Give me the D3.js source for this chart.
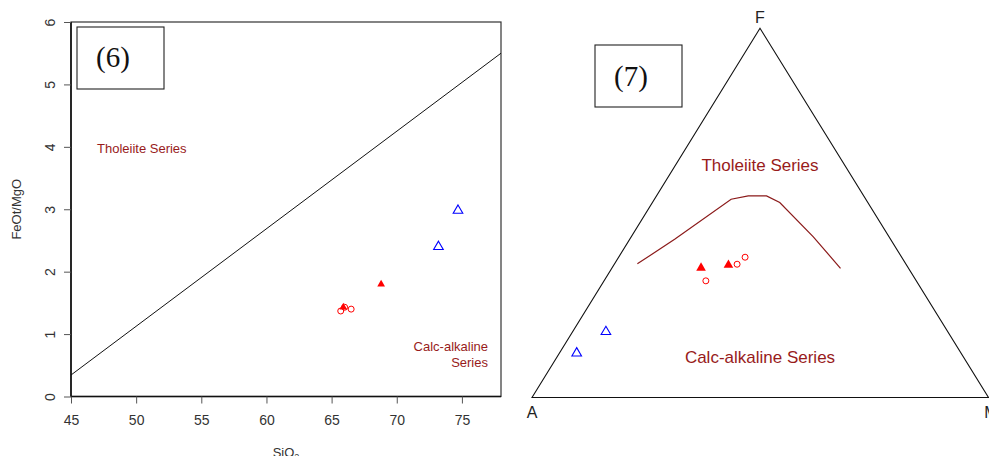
<!DOCTYPE html>
<html>
<head>
<meta charset="utf-8">
<script src="https://cdn.jsdelivr.net/npm/d3@7"></script>
<style>
  body { margin: 0; background: #fff; }
  svg { display: block; font-family: "Liberation Sans", Arial, sans-serif; }
</style>
</head>
<body>
<svg id="chart" width="989" height="456"></svg>
<script>
// ---- data ----
// left panel: SiO2 vs FeOt/MgO
const siO2   = [74.7, 73.2, 68.8, 65.9, 65.7, 66.0, 66.5];
const feoMgo = [2.98, 2.40, 1.80, 1.43, 1.37, 1.43, 1.40];
const kinds  = ['open', 'open', 'filled', 'filled', 'circle', 'circle', 'circle'];
const xTicks = [45, 50, 55, 60, 65, 70, 75];
const yTicks = [0, 1, 2, 3, 4, 5, 6];
// Miyashiro divide line (endpoints)
const divideSi = [45, 78];
const divideFm = [0.344, 5.5];

// right panel: AFM ternary (percent)
const afmA = [74.9, 84.2, 45.4, 39.0, 46.1, 37.0, 34.3];
const afmF = [17.8, 12.0, 35.1, 35.9, 31.6, 36.1, 38.0];
const afmM = [7.3, 3.8, 19.5, 25.1, 22.3, 26.9, 27.7];
const afmKinds = ['open', 'open', 'filled', 'filled', 'circle', 'circle', 'circle'];
// tholeiite / calc-alkaline boundary
const boundA = [58.8, 47.2, 29.5, 25.3, 21.3, 19.3, 16.6, 14.9];
const boundF = [36.2, 42.9, 53.7, 54.6, 54.6, 52.8, 43.5, 35.0];
const boundM = [5.0, 9.9, 16.8, 20.1, 24.1, 27.9, 39.9, 50.1];

const labelRed = '#981b1b';
const svg = d3.select('#chart');

function drawMark(g, kind, x, y, triSize) {
  if (kind === 'circle') {
    g.append('circle').attr('cx', x).attr('cy', y).attr('r', 3)
      .attr('fill', 'none').attr('stroke', '#ff0000').attr('stroke-width', 1);
  } else {
    const path = d3.symbol(d3.symbolTriangle, kind === 'open' ? 40 : triSize)();
    const p = g.append('path').attr('d', path).attr('transform', `translate(${x},${y})`);
    if (kind === 'open') p.attr('fill', 'none').attr('stroke', '#0000ff').attr('stroke-width', 1.1);
    else p.attr('fill', '#ff0000');
  }
}

// ---- left panel ----
const x = d3.scaleLinear().domain([45, 78]).range([71, 501]);
const y = d3.scaleLinear().domain([0, 6]).range([396.5, 22]);

const left = svg.append('g');

left.append('rect')
  .attr('x', x(45)).attr('y', y(6))
  .attr('width', x(78) - x(45)).attr('height', y(0) - y(6))
  .attr('fill', 'none').attr('stroke', '#333').attr('stroke-width', 1.2);

const xAxis = left.append('g')
  .attr('transform', `translate(0,${y(0)})`)
  .call(d3.axisBottom(x).tickValues(xTicks).tickFormat(d3.format('d'))
    .tickSize(7).tickPadding(12).tickSizeOuter(0));
xAxis.select('.domain').attr('d', `M${x(45)},0H${x(78)}`).attr('stroke', '#111').attr('stroke-width', 1.6);
xAxis.selectAll('.tick line').attr('stroke', '#555');
xAxis.selectAll('.tick text').attr('font-size', 14).attr('fill', '#333')
  .attr('font-family', '"Liberation Sans", Arial, sans-serif');

const yAxis = left.append('g')
  .attr('transform', `translate(${x(45)},0)`)
  .call(d3.axisLeft(y).tickValues(yTicks).tickFormat(d3.format('d'))
    .tickSize(7).tickSizeOuter(0));
yAxis.select('.domain').attr('d', `M0,${y(0)}V${y(6)}`).attr('stroke', '#111').attr('stroke-width', 1.6);
yAxis.selectAll('.tick line').attr('stroke', '#555');
yAxis.selectAll('.tick text')
  .attr('font-size', 14).attr('fill', '#333')
  .attr('font-family', '"Liberation Sans", Arial, sans-serif')
  .attr('x', 0).attr('y', 0)
  .attr('text-anchor', 'middle')
  .attr('transform', 'translate(-21,0) rotate(-90)')
  .attr('dy', '0.35em');

left.append('text')
  .attr('transform', `translate(21,${(y(0) + y(6)) / 2}) rotate(-90)`)
  .attr('text-anchor', 'middle').attr('font-size', 13).attr('fill', '#333')
  .text('FeOt/MgO');

const siLabel = left.append('text')
  .attr('x', (x(45) + x(78)) / 2).attr('y', 457)
  .attr('text-anchor', 'middle').attr('font-size', 13).attr('fill', '#333');
siLabel.append('tspan').text('SiO');
siLabel.append('tspan').attr('font-size', 9).attr('dy', 3).text('2');

left.append('line')
  .attr('x1', x(divideSi[0])).attr('y1', y(divideFm[0]))
  .attr('x2', x(divideSi[1])).attr('y2', y(divideFm[1]))
  .attr('stroke', '#111').attr('stroke-width', 1);

// panel tag (6)
left.append('rect').attr('x', 77).attr('y', 27).attr('width', 87).attr('height', 62)
  .attr('fill', '#fff').attr('stroke', '#222').attr('stroke-width', 1.1);
left.append('text').attr('x', 113).attr('y', 67).attr('text-anchor', 'middle')
  .attr('font-family', '"Liberation Serif", "Times New Roman", serif').attr('font-size', 29)
  .attr('fill', '#111').text('(6)');

left.append('text').attr('x', 97).attr('y', 153).attr('font-size', 13)
  .attr('fill', labelRed).text('Tholeiite Series');
left.append('text').attr('x', 488).attr('y', 351).attr('text-anchor', 'end')
  .attr('font-size', 13).attr('fill', labelRed).text('Calc-alkaline');
left.append('text').attr('x', 488).attr('y', 367).attr('text-anchor', 'end')
  .attr('font-size', 13).attr('fill', labelRed).text('Series');

siO2.forEach((v, i) => drawMark(left, kinds[i], x(v), y(feoMgo[i]), 26));

// ---- right panel: AFM ternary ----
const vA = [532, 397.5], vF = [760, 28.3], vM = [988.5, 397.5];
function tern(a, f, m) {
  const s = a + f + m;
  return [
    (a * vA[0] + f * vF[0] + m * vM[0]) / s,
    (a * vA[1] + f * vF[1] + m * vM[1]) / s
  ];
}

const right = svg.append('g');

right.append('path')
  .attr('d', d3.line()([tern(100, 0, 0), tern(0, 100, 0), tern(0, 0, 100)]) + 'Z')
  .attr('fill', 'none').attr('stroke', '#111').attr('stroke-width', 1.1);

right.append('text').attr('x', vF[0]).attr('y', 23).attr('text-anchor', 'middle')
  .attr('font-size', 16).attr('fill', '#222').text('F');
right.append('text').attr('x', vA[0]).attr('y', 418).attr('text-anchor', 'middle')
  .attr('font-size', 16).attr('fill', '#222').text('A');
right.append('text').attr('x', 991).attr('y', 418).attr('text-anchor', 'middle')
  .attr('font-size', 16).attr('fill', '#222').text('M');

right.append('path')
  .attr('d', d3.line()(boundA.map((a, i) => tern(a, boundF[i], boundM[i]))))
  .attr('fill', 'none').attr('stroke', '#8b1a1a').attr('stroke-width', 1.2);

right.append('rect').attr('x', 595).attr('y', 45).attr('width', 87).attr('height', 62)
  .attr('fill', '#fff').attr('stroke', '#222').attr('stroke-width', 1.1);
right.append('text').attr('x', 631).attr('y', 86).attr('text-anchor', 'middle')
  .attr('font-family', '"Liberation Serif", "Times New Roman", serif').attr('font-size', 29)
  .attr('fill', '#111').text('(7)');

right.append('text').attr('x', 760).attr('y', 171).attr('text-anchor', 'middle')
  .attr('font-size', 17).attr('fill', labelRed).text('Tholeiite Series');
right.append('text').attr('x', 760).attr('y', 363).attr('text-anchor', 'middle')
  .attr('font-size', 17).attr('fill', labelRed).text('Calc-alkaline Series');

afmA.forEach((a, i) => {
  const [px, py] = tern(a, afmF[i], afmM[i]);
  drawMark(right, afmKinds[i], px, py, 40);
});
</script>
</body>
</html>
